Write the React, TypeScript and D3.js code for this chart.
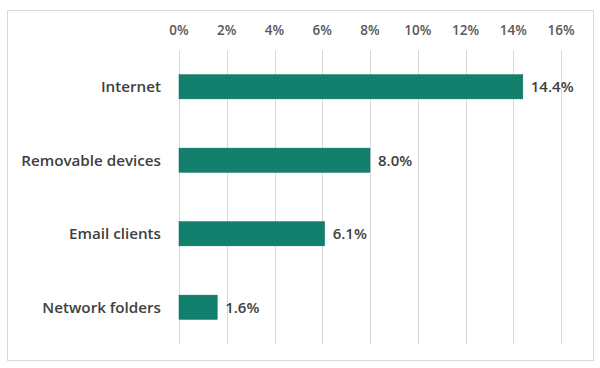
import React from 'react';
import * as d3 from 'd3';

const categories = ['Internet', 'Removable devices', 'Email clients', 'Network folders'];
const values = [14.4, 8.0, 6.1, 1.6];
const ticks = [0, 2, 4, 6, 8, 10, 12, 14, 16];

const App: React.FC = () => {
  const width = 600;
  const height = 368;

  const x = d3.scaleLinear().domain([0, 16]).range([179, 561]);
  const y = d3.scaleBand<string>()
    .domain(categories)
    .range([50, 344])
    .paddingInner(0.67)
    .paddingOuter(0.335);

  const font = "'Open Sans', 'Liberation Sans', sans-serif";

  return (
    <svg width={width} height={height} style={{ position: 'absolute', left: 0, top: 0 }}>
      <rect x={0} y={0} width={width} height={height} fill="#fff" />
      <rect x={7.5} y={10.5} width={586} height={350} fill="#fff" stroke="#d9d9d9" />
      {/* gridlines */}
      {ticks.map(t => (
        <line key={'g' + t} x1={Math.round(x(t)) + 0.5} x2={Math.round(x(t)) + 0.5} y1={50} y2={344} stroke="#d9d9d9" />
      ))}
      {/* top axis labels */}
      {ticks.map(t => (
        <text key={'t' + t} x={x(t)} y={35} textAnchor="middle" fontFamily={font} fontSize={13.5} fontWeight={600} fill="#595959">
          {t + '%'}
        </text>
      ))}
      {/* bars */}
      {categories.map((c, i) => (
        <g key={c}>
          <rect x={x(0)} y={y(c)!} width={x(values[i]) - x(0)} height={y.bandwidth()} fill="#13806d" stroke="#0f6e5d" strokeWidth={0.5} />
          <text x={161} y={y(c)! + y.bandwidth() / 2} dy="0.35em" textAnchor="end" fontFamily={font} fontSize={15.2} fontWeight={600} fill="#404040">
            {c}
          </text>
          <text x={x(values[i]) + 8} y={y(c)! + y.bandwidth() / 2} dy="0.35em" fontFamily={font} fontSize={15} fontWeight={600} fill="#404040">
            {values[i].toFixed(1) + '%'}
          </text>
        </g>
      ))}
    </svg>
  );
};

export default App;
